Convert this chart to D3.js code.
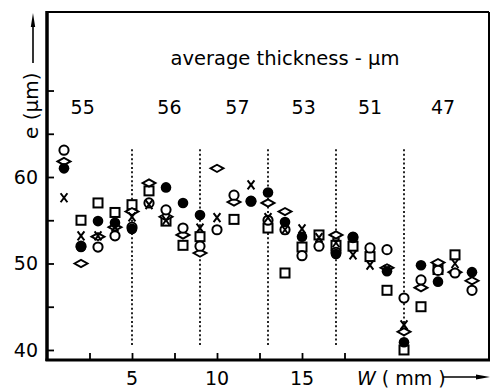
<!DOCTYPE html>
<html>
<head>
<meta charset="utf-8">
<script src="https://cdn.jsdelivr.net/npm/d3@7"></script>
<style>
  html, body { margin: 0; padding: 0; background: #fff; }
  svg { display: block; }
  text { font-family: "DejaVu Sans", sans-serif; fill: #000; }
</style>
</head>
<body>
<svg id="chart" width="492" height="390"></svg>
<script>
// ---- data ----
const positions = d3.range(1, 26); // W (mm)
const openCircle = [63.1, 52.0, 51.9, 53.2, 54.2, 57.0, 56.2, 54.1, 52.0, 53.9, 57.9, 57.2, 55.0, 53.9, 50.9, 52.0, 51.3, 53.0, 51.8, 51.6, 46.0, 48.1, 49.2, 48.9, 46.9];
const filledCircle = [61.0, 51.9, 54.9, 54.7, 54.0, null, 58.8, 57.0, 55.6, null, null, 57.2, 58.2, 54.8, 53.1, null, 51.1, 53.1, null, 49.1, 40.9, 49.8, 47.9, null, 49.0];
const cross = [57.6, 53.2, 53.2, 54.2, 55.4, 56.8, 55.0, null, 54.1, 55.3, null, 59.1, 55.3, 53.9, 54.0, 53.0, 52.4, 51.0, 49.8, 49.3, 42.9, null, null, 50.0, null];
const square = [null, 55.0, 57.0, 55.9, 56.8, 58.4, 54.9, 52.1, 53.1, null, 55.1, null, 54.1, 48.9, 51.9, 53.3, 52.1, 52.0, 50.8, 46.9, 40.0, 45.0, 49.3, 51.0, null];
const diamond = [61.8, 50.0, 53.1, 54.2, 56.0, 59.3, 55.4, 53.3, 51.2, 61.0, 57.1, null, 57.0, 56.0, null, null, 53.3, null, null, 49.5, 42.1, 47.2, 50.1, 49.0, 48.0];

const boundaries = [5, 9, 13, 17, 21];
const bandLabels = ["55", "56", "57", "53", "51", "47"];
const bandLabelPos = [2.1, 7.2, 11.2, 15.1, 19.0, 23.3];
const yTickLabels = [40, 50, 60];
const yMinorTicks = [40, 45, 50, 55, 60, 65, 70];
const xTickLabels = [5, 10, 15];
const xMinorTicks = [2.5, 5, 7.5, 10, 12.5, 15, 17.5];

// ---- scales ----
const svg = d3.select("#chart");
const x = d3.scaleLinear().domain([0, 26]).range([47, 489]);
const y = d3.scaleLinear().domain([38.84, 79.08]).range([360, 12]);

// frame
svg.append("line").attr("x1", x(0)).attr("x2", x(26)).attr("y1", y(79.08)).attr("y2", y(79.08)).attr("stroke", "#000").attr("stroke-width", 2.2);
svg.append("line").attr("x1", x(26)).attr("x2", x(26)).attr("y1", y(79.08)).attr("y2", y(38.84)).attr("stroke", "#000").attr("stroke-width", 2);

// axes
const yAxis = d3.axisLeft(y).tickValues(yMinorTicks).tickSize(-7).tickFormat("");
const gy = svg.append("g").attr("transform", `translate(${x(0)},0)`).call(yAxis);
gy.select(".domain").attr("stroke-width", 3.5).attr("d", `M0,${y(79.08)-1}V${y(38.84)+1}`);
gy.selectAll(".tick line").attr("stroke-width", 1.8);

const xAxis = d3.axisBottom(x).tickValues(xMinorTicks).tickSize(-7).tickFormat("");
const gx = svg.append("g").attr("transform", `translate(0,${y(38.84)})`).call(xAxis);
gx.select(".domain").attr("stroke-width", 3.2).attr("d", `M${x(0)-1.5},0H${x(26)+1}`);
gx.selectAll(".tick line").attr("stroke-width", 1.8);

// tick labels
svg.selectAll(".ylab").data(yTickLabels).enter().append("text")
  .attr("x", 38).attr("y", d => y(d)).attr("dy", "0.36em")
  .attr("text-anchor", "end").attr("font-size", 19).text(d => d);
svg.selectAll(".xlab").data(xTickLabels).enter().append("text")
  .attr("x", d => x(d)).attr("y", 385)
  .attr("text-anchor", "middle").attr("font-size", 19).text(d => d);

// dotted boundaries
svg.selectAll(".bnd").data(boundaries).enter().append("line")
  .attr("x1", d => x(d)).attr("x2", d => x(d))
  .attr("y1", y(63.2)).attr("y2", y(40.5))
  .attr("stroke", "#000").attr("stroke-width", 1.7).attr("stroke-dasharray", "2,2.4");

// band labels
svg.append("text").attr("x", 285).attr("y", 65).attr("text-anchor", "middle")
  .attr("font-size", 19.5).text("average thickness - μm");
svg.selectAll(".band").data(bandLabels).enter().append("text")
  .attr("x", (d, i) => x(bandLabelPos[i])).attr("y", 114)
  .attr("text-anchor", "middle").attr("font-size", 19).text(d => d);

// markers
const pts = arr => arr.map((v, i) => ({ w: positions[i], v })).filter(d => d.v !== null);

svg.selectAll(".sq").data(pts(square)).enter().append("rect")
  .attr("x", d => x(d.w) - 4.5).attr("y", d => y(d.v) - 4.5)
  .attr("width", 9).attr("height", 9)
  .attr("fill", "#fff").attr("stroke", "#000").attr("stroke-width", 2);

svg.selectAll(".dm").data(pts(diamond)).enter().append("path")
  .attr("d", d => { const cx = x(d.w), cy = y(d.v); return `M${cx-6.5},${cy}L${cx},${cy-3.6}L${cx+6.5},${cy}L${cx},${cy+3.6}Z`; })
  .attr("fill", "#fff").attr("stroke", "#000").attr("stroke-width", 1.9);

svg.selectAll(".oc").data(pts(openCircle)).enter().append("circle")
  .attr("cx", d => x(d.w)).attr("cy", d => y(d.v)).attr("r", 4.6)
  .attr("fill", "#fff").attr("stroke", "#000").attr("stroke-width", 2);

svg.selectAll(".cr").data(pts(cross)).enter().append("path")
  .attr("d", d => { const cx = x(d.w), cy = y(d.v); return `M${cx-3.4},${cy-4.5}L${cx+3.4},${cy+4.5}M${cx+3.4},${cy-4.5}L${cx-3.4},${cy+4.5}`; })
  .attr("fill", "none").attr("stroke", "#000").attr("stroke-width", 2);

svg.selectAll(".fc").data(pts(filledCircle)).enter().append("circle")
  .attr("cx", d => x(d.w)).attr("cy", d => y(d.v)).attr("r", 5.3)
  .attr("fill", "#000");

// axis titles
const yt = svg.append("g").attr("transform", "translate(38,139) rotate(-90)");
yt.append("text").attr("x", 0).attr("y", 0).attr("font-size", 20).text("e (μm)");
svg.append("line").attr("x1", 33).attr("x2", 33).attr("y1", 63).attr("y2", 22).attr("stroke", "#000").attr("stroke-width", 1.6);
svg.append("path").attr("d", "M33,13L30.8,27L35.2,27Z").attr("fill", "#000");

const xt = svg.append("text").attr("x", 357).attr("y", 385).attr("font-size", 19);
xt.append("tspan").attr("font-style", "italic").text("W");
xt.append("tspan").text(" ( mm )");
svg.append("line").attr("x1", 443).attr("x2", 478).attr("y1", 377).attr("y2", 377).attr("stroke", "#000").attr("stroke-width", 1.6);
svg.append("path").attr("d", "M490,377L476,374.6L476,379.4Z").attr("fill", "#000");
</script>
</body>
</html>
